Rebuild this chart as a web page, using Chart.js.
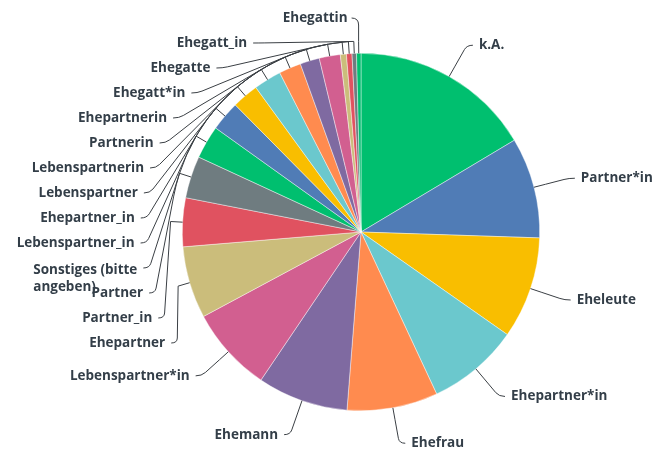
<!DOCTYPE html>
<html>
<head>
<meta charset="utf-8">
<script src="https://cdn.jsdelivr.net/npm/chart.js@4.4.1/dist/chart.umd.min.js"></script>
<style>
  html, body { margin: 0; padding: 0; background: #ffffff; }
  canvas { display: block; }
</style>
</head>
<body>
<canvas id="c" width="659" height="452"></canvas>
<script>
// ---- data ----
const categories = [
  "k.A.", "Partner*in", "Eheleute", "Ehepartner*in", "Ehefrau", "Ehemann",
  "Lebenspartner*in", "Ehepartner", "Partner_in", "Partner",
  ["Sonstiges (bitte", "angeben)"], "Lebenspartner_in", "Ehepartner_in",
  "Lebenspartner", "Lebenspartnerin", "Partnerin", "Ehepartnerin",
  "Ehegatt*in", "Ehegatte", "Ehegatt_in", "Ehegattin"
];
const shares = [
  16.4, 9.1, 9.2, 8.3, 8.2, 8.2,
  7.7, 6.5, 4.4, 3.8,
  3.0, 2.7, 2.4,
  2.5, 2.0, 1.75, 1.9,
  0.55, 0.5, 0.4, 0.4
];
const palette = ["#00bf6f", "#507cb6", "#f9be00", "#6bc8cd", "#ff8b4f",
                 "#7f6aa1", "#d25f90", "#cbbd7b", "#e05260", "#6f7c80"];
const sliceColors = categories.map((_, i) => palette[i % palette.length]);

// ---- leader-line labels ----
const leaderPlugin = {
  id: 'leaders',
  afterDraw(chart) {
    const ctx = chart.ctx;
    const arcs = chart.getDatasetMeta(0).data;
    const labels = chart.data.labels;
    const cx = arcs[0].x, cy = arcs[0].y, r = arcs[0].outerRadius;
    const R = r + 36, rho = r + 12, gap = 12, hook = 6, step = 25, topY = 18, lh = 17;
    const TAU = Math.PI * 2;
    const norm = a => ((a % TAU) + TAU) % TAU;

    const items = arcs.map((a, i) => {
      const mid = (a.startAngle + a.endAngle) / 2;
      return { i, mid, left: Math.cos(mid) < 0, idealY: cy + R * Math.sin(mid) };
    });
    items.filter(it => !it.left).forEach(it => {
      it.ax = cx + R * Math.cos(it.mid);
      it.ay = it.idealY;
    });
    const leftItems = items.filter(it => it.left).sort((a, b) => a.idealY - b.idealY);
    let prev = -Infinity;
    leftItems.forEach((it, k) => {
      const y = k === 0 ? Math.max(it.idealY, topY) : Math.max(it.idealY, prev + step);
      prev = y;
      it.ay = y;
      const dy = y - cy;
      it.ax = cx - Math.sqrt(Math.max(R * R - dy * dy, 0));
    });

    ctx.save();
    ctx.strokeStyle = '#3a3f44';
    ctx.lineWidth = 1;
    ctx.fillStyle = '#333e48';
    ctx.font = '700 13.5px "Open Sans", sans-serif';
    ctx.textBaseline = 'middle';

    items.forEach(it => {
      const m = it.mid;
      const ex = cx + r * Math.cos(m), ey = cy + r * Math.sin(m);
      const tx = cx + rho * Math.cos(m), ty = cy + rho * Math.sin(m);
      let textX, align;
      ctx.beginPath();
      ctx.moveTo(ex, ey);
      ctx.lineTo(tx, ty);
      if (it.left && it.ay < cy - rho - 8) {
        ctx.lineTo(tx, it.ay + 7);
        ctx.quadraticCurveTo(tx, it.ay, tx - 7, it.ay);
        textX = tx - 11; align = 'right';
      } else {
        const ax = it.ax, ay = it.ay;
        const phiA = norm(Math.atan2(ay - cy, ax - cx));
        const d = Math.hypot(ax - cx, ay - cy);
        const delta = Math.acos(Math.min(rho / d, 1));
        let sx = tx, sy = ty;
        if (it.left) {
          const tauA = phiA + delta;
          const mm = norm(m);
          if (mm > tauA + 0.01) {
            ctx.arc(cx, cy, rho, mm, tauA, true);
            sx = cx + rho * Math.cos(tauA); sy = cy + rho * Math.sin(tauA);
          }
        }
        const L = Math.hypot(ax - sx, ay - sy) || 1;
        const bx = ax - (ax - sx) / L * 5, by = ay - (ay - sy) / L * 5;
        ctx.lineTo(bx, by);
        const dir = it.left ? -1 : 1;
        ctx.quadraticCurveTo(ax, ay, ax + dir * hook, ay);
        textX = ax + dir * gap; align = it.left ? 'right' : 'left';
      }
      ctx.stroke();

      const lab = labels[it.i];
      const lines = Array.isArray(lab) ? lab : [lab];
      if (lines.length === 1) {
        ctx.textAlign = align;
        ctx.fillText(lines[0], textX, it.ay);
      } else {
        const w = Math.max(...lines.map(s => ctx.measureText(s).width));
        const x0 = align === 'right' ? textX - w : textX;
        ctx.textAlign = 'left';
        lines.forEach((s, k) => ctx.fillText(s, x0, it.ay + 2 + k * lh));
      }
    });
    ctx.restore();
  }
};

new Chart(document.getElementById('c'), {
  type: 'pie',
  data: {
    labels: categories,
    datasets: [{
      data: shares,
      backgroundColor: sliceColors,
      borderColor: 'rgba(255,255,255,0.7)',
      borderWidth: 0.6
    }]
  },
  options: {
    responsive: false,
    devicePixelRatio: 1,
    animation: false,
    layout: { padding: { left: 182, right: 119, top: 53, bottom: 41 } },
    plugins: { legend: { display: false }, tooltip: { enabled: false } }
  },
  plugins: [leaderPlugin]
});
</script>
</body>
</html>
